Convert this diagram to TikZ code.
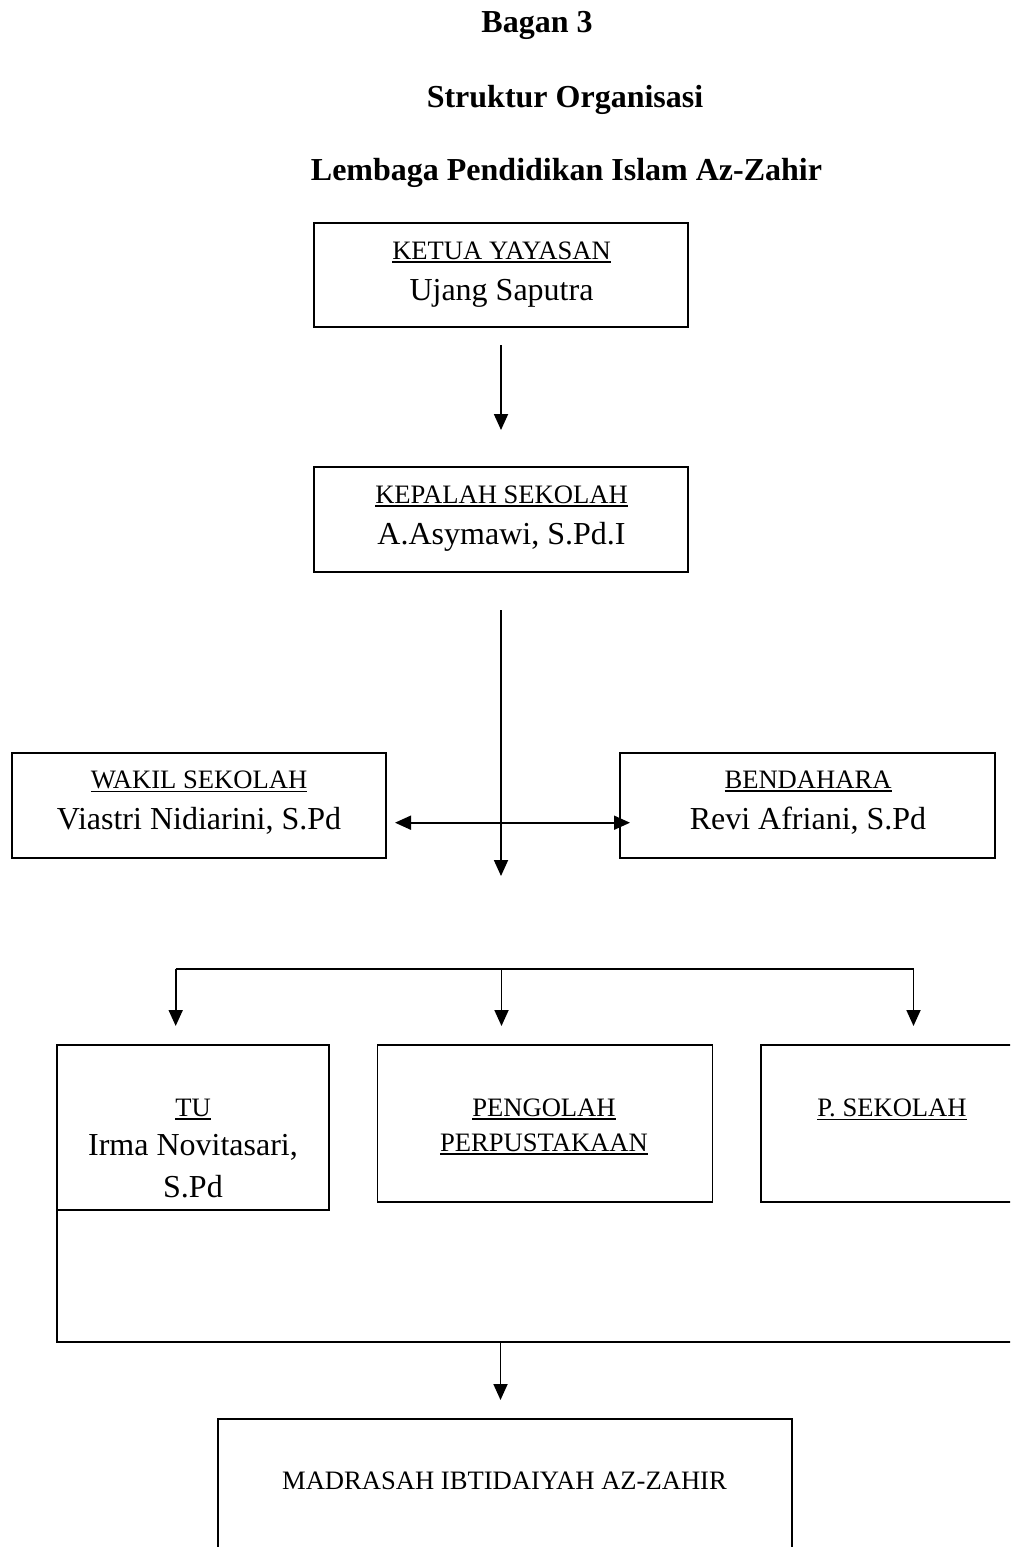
\documentclass[tikz,border=0pt]{standalone}
\usepackage{fontspec}
\setmainfont{Liberation Serif}
\usetikzlibrary{arrows.meta}
\newcommand\ulbox[1]{\vtop{\hbox{#1}\kern2.2pt\hrule height 1.4pt}}
\tikzset{
  box/.style={draw, line width=1.8pt, inner sep=0pt, outer sep=0pt},
  lbl/.style={anchor=base, inner sep=0pt, font=\fontsize{26.6}{32}\selectfont},
  nm/.style={anchor=base, inner sep=0pt, font=\fontsize{32}{38}\selectfont},
  ttl/.style={anchor=base, inner sep=0pt, font=\bfseries\fontsize{32}{38}\selectfont},
  conn/.style={line width=1.8pt},
  arr/.style={line width=1.8pt, -{Triangle[length=16pt,width=14pt]}},
  darr/.style={line width=1.8pt, {Triangle[length=16pt,width=14pt]}-{Triangle[length=16pt,width=14pt]}}
}
\begin{document}
\begin{tikzpicture}[x=1pt,y=-1pt]
\path[use as bounding box, clip] (0,0) rectangle (1010,1547);
\fill[white] (0,0) rectangle (1010,1547);
% titles
\node[ttl] (t1) at (537,32) {Bagan 3};
\node[ttl] (t2) at (565,107) {Struktur Organisasi};
\node[ttl] (t3) at (566.5,180) {Lembaga Pendidikan Islam Az-Zahir};
% boxes
\node[box, minimum width=374pt, minimum height=104pt] (ketua) at (501,275) {};
\node[box, minimum width=374pt, minimum height=105pt] (kepala) at (501,519.5) {};
\node[box, minimum width=374pt, minimum height=105pt] (wakil) at (199,805.5) {};
\node[box, minimum width=375pt, minimum height=105pt] (bendahara) at (807.5,805.5) {};
\node[box, minimum width=272pt, minimum height=165pt] (tu) at (193,1127.5) {};
\node[box, minimum width=335pt, minimum height=157pt] (pengolah) at (545,1123.5) {};
\node[box, minimum width=269pt, minimum height=157pt] (psek) at (895.5,1123.5) {};
\node[box, minimum width=574pt, minimum height=151pt] (madrasah) at (505,1494.5) {};
% texts
\node[lbl] (ketuaL) at (501.5,259) {\ulbox{KETUA YAYASAN}};
\node[nm] (ketuaN) at (501.5,300) {Ujang Saputra};
\node[lbl] (kepalaL) at (501.5,503) {\ulbox{KEPALAH SEKOLAH}};
\node[nm] (kepalaN) at (501.5,544) {A.Asymawi, S.Pd.I};
\node[lbl] (wakilL) at (199,788) {\ulbox{WAKIL SEKOLAH}};
\node[nm] (wakilN) at (199,829) {Viastri Nidiarini, S.Pd};
\node[lbl] (bendL) at (808,788) {\ulbox{BENDAHARA}};
\node[nm] (bendN) at (808,829) {Revi Afriani, S.Pd};
\node[lbl] (tuL) at (193,1116) {\ulbox{TU}};
\node[nm] (tuN1) at (193,1155) {Irma Novitasari,};
\node[nm] (tuN2) at (193,1197) {S.Pd};
\node[lbl] (pengL1) at (544,1116) {\ulbox{PENGOLAH}};
\node[lbl] (pengL2) at (544,1151) {\ulbox{PERPUSTAKAAN}};
\node[lbl] (psekL) at (892,1116) {\ulbox{P. SEKOLAH}};
\node[lbl] (madL) at (504.5,1489) {MADRASAH IBTIDAIYAH AZ-ZAHIR};
% connector coordinates
\coordinate (a1s) at (501,345);
\coordinate (a1e) at (501,430);
\coordinate (a2s) at (501,610);
\coordinate (a2e) at (501,876);
\coordinate (dl) at (395,822.7);
\coordinate (dr) at (630,822.7);
\coordinate (bl) at (175.7,968.7);
\coordinate (bm) at (501.5,968.7);
\coordinate (br) at (913.5,968.7);
\coordinate (bl2) at (175.7,1026);
\coordinate (bm2) at (501.5,1026);
\coordinate (br2) at (913.5,1026);
\coordinate (fbl) at (57,1342);
\coordinate (fbr) at (1030,1342);
\coordinate (fm) at (500.5,1342);
\coordinate (fm2) at (500.5,1400);
% connectors
\draw[arr] (a1s) -- (a1e);
\draw[arr] (a2s) -- (a2e);
\draw[darr] (dl) -- (dr);
\draw[conn] (bl) -- (br);
\draw[arr] (bl) -- (bl2);
\draw[arr] (bm) -- (bm2);
\draw[arr] (br) -- (br2);
\draw[conn] (tu.south west) -- (fbl) -- (fbr);
\draw[arr] (fm) -- (fm2);
\end{tikzpicture}
\end{document}
